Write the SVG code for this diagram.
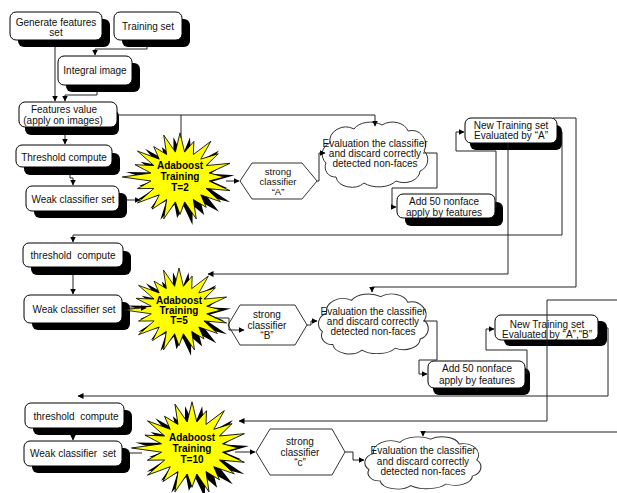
<svg xmlns="http://www.w3.org/2000/svg" width="617" height="493" viewBox="0 0 617 493">
  <style>
    .box { fill: #fff; stroke: #000; stroke-width: 1; }
    .shd { fill: #000; }
    .t { font-family: "Liberation Sans", Arial, sans-serif; font-size: 10px; fill: #111; text-anchor: middle; }
    .b { font-weight: bold; fill: #000; }
    .hex { fill: #fff; stroke: #333; stroke-width: 1; }
    .cloud { fill: #fff; stroke: #333; stroke-width: 1; }
    .burst { fill: #ffff00; stroke: #000; stroke-width: 0.8; }
    .burst-shd { fill: #000; }
    .c { fill: none; stroke: #222; stroke-width: 1; }
    .ar { marker-end: url(#ah); }
  </style>
  <defs>
    <marker id="ah" markerWidth="6" markerHeight="6" refX="5.5" refY="3" orient="auto" markerUnits="userSpaceOnUse">
      <path d="M0,0 L6,3 L0,6 z" fill="#000"/>
    </marker>
    <polygon id="burst" points="0,-42 4.4,-23.7 13.2,-33.9 12.7,-21.4 29.4,-34 19.8,-17 36.5,-22.2 24.9,-10.9 47.6,-13 27.7,-3.8 42.5,0 27.7,3.8 47.6,13 24.9,10.9 38.5,23.5 19.8,17 25,28.9 12.7,21.4 15.5,39.9 4.4,23.7 0,35.7 -4.4,23.7 -15.5,39.9 -12.7,21.4 -26.5,30.6 -19.8,17 -40.5,24.7 -24.9,10.9 -40.5,11.1 -27.7,3.8 -55,0 -27.7,-3.8 -42.8,-11.7 -24.9,-10.9 -40.5,-24.7 -19.8,-17 -25,-28.9 -12.7,-21.4 -15.5,-39.9 -4.4,-23.7"/>
    <path id="cloudShape" d="M10,42 A12,12 0 0 1 14,22 A16,14 0 0 1 38,8 A18,12 0 0 1 66,4 A16,12 0 0 1 92,10 A14,14 0 0 1 108,30 A12,12 0 0 1 104,50 A16,12 0 0 1 80,60 A20,12 0 0 1 48,62 A16,12 0 0 1 20,56 A10,10 0 0 1 10,42 Z"/>
  </defs>

  <!-- stage 1 -->
  <g id="gen-features">
    <rect class="shd" x="18" y="19" width="92" height="28" rx="6"/>
    <rect class="box" x="10" y="12" width="92" height="28" rx="6"/>
    <text class="t" x="56" y="25.5">Generate features</text>
    <text class="t" x="56" y="36">set</text>
  </g>
  <g id="training-set">
    <rect class="shd" x="122" y="19" width="68" height="28" rx="6"/>
    <rect class="box" x="114" y="12" width="68" height="28" rx="6"/>
    <text class="t" x="148" y="29.5">Training set</text>
  </g>
  <g id="integral-image">
    <rect class="shd" x="66" y="63" width="74" height="29" rx="6"/>
    <rect class="box" x="58" y="56" width="74" height="29" rx="6"/>
    <text class="t" x="95" y="73.5">Integral image</text>
  </g>
  <g id="features-value">
    <rect class="shd" x="25" y="110" width="94" height="25" rx="6"/>
    <rect class="box" x="19" y="102" width="98" height="25" rx="6"/>
    <text class="t" x="64" y="113">Features value</text>
    <text class="t" x="63" y="123.5">(apply on images)</text>
  </g>
  <g id="threshold-1">
    <rect class="shd" x="24" y="153" width="96" height="22" rx="6"/>
    <rect class="box" x="16" y="145" width="96" height="22" rx="6"/>
    <text class="t" x="64" y="160.5">Threshold compute</text>
  </g>
  <g id="weak-1">
    <rect class="shd" x="34" y="193" width="93" height="25" rx="6"/>
    <rect class="box" x="26" y="186" width="93" height="25" rx="6"/>
    <text class="t" x="73" y="202.5">Weak classifier set</text>
  </g>
  <g id="adaboost-1">
    <use href="#burst" class="burst-shd" transform="translate(183,181) rotate(9) scale(1.05)"/>
    <use href="#burst" class="burst" transform="translate(180,177) scale(1.05)"/>
    <text class="t b" x="180" y="168.5">Adaboost</text>
    <text class="t b" x="180" y="179.5">Training</text>
    <text class="t b" x="180" y="190.5">T=2</text>
  </g>
  <g id="strong-a">
    <polygon class="hex" points="240,181 252,163 302,163 317,181 302,199 252,199"/>
    <text class="t" x="278" y="174.5" style="font-size:9.5px">strong</text>
    <text class="t" x="278" y="184.5" style="font-size:9.5px">classifier</text>
    <text class="t" x="278" y="194.5" style="font-size:9.5px">“A”</text>
  </g>
  <g id="eval-1">
    <use href="#cloudShape" class="cloud" transform="translate(316,121)"/>
    <text class="t" x="375" y="146.5">Evaluation the classifier</text>
    <text class="t" x="375" y="157">and discard correctly</text>
    <text class="t" x="375" y="167">detected non-faces</text>
  </g>
  <g id="add50-1">
    <rect class="shd" x="405" y="202" width="98" height="24" rx="6"/>
    <rect class="box" x="397" y="194" width="98" height="24" rx="6"/>
    <text class="t" x="444" y="205">Add 50 nonface</text>
    <text class="t" x="444" y="215.5">apply by features</text>
  </g>
  <g id="new-training-1">
    <rect class="shd" x="470" y="125" width="92" height="25" rx="6"/>
    <rect class="box" x="465" y="118" width="92" height="25" rx="6"/>
    <text class="t" x="511" y="128.5">New Training set</text>
    <text class="t" x="511" y="139">Evaluated by “A”</text>
  </g>

  <!-- stage 2 -->
  <g id="threshold-2">
    <rect class="shd" x="31" y="251" width="100" height="24" rx="6"/>
    <rect class="box" x="23" y="243" width="100" height="24" rx="6"/>
    <text class="t" x="73" y="258.5" xml:space="preserve">threshold  compute</text>
  </g>
  <g id="weak-2">
    <rect class="shd" x="32" y="302" width="98" height="28" rx="6"/>
    <rect class="box" x="24" y="295" width="98" height="28" rx="6"/>
    <text class="t" x="74" y="312.5">Weak classifier set</text>
  </g>
  <g id="adaboost-2">
    <use href="#burst" class="burst-shd" transform="translate(182,314) rotate(9)"/>
    <use href="#burst" class="burst" transform="translate(179,310)"/>
    <text class="t b" x="179" y="303.5">Adaboost</text>
    <text class="t b" x="179" y="313.5">Training</text>
    <text class="t b" x="179" y="323.5">T=5</text>
  </g>
  <g id="strong-b">
    <polygon class="hex" points="228,325 240,305 295,305 307,325 295,345 240,345"/>
    <text class="t" x="267" y="318">strong</text>
    <text class="t" x="267" y="328.5">classifier</text>
    <text class="t" x="267" y="339">“B”</text>
  </g>
  <g id="eval-2">
    <use href="#cloudShape" class="cloud" transform="translate(312,293) scale(1.04,0.92)"/>
    <text class="t" x="373" y="314.5">Evaluation the classifier</text>
    <text class="t" x="373" y="325">and discard correctly</text>
    <text class="t" x="373" y="335">detected non-faces</text>
  </g>
  <g id="add50-2">
    <rect class="shd" x="433" y="368" width="97" height="27" rx="6"/>
    <rect class="box" x="428" y="361" width="97" height="27" rx="6"/>
    <text class="t" x="477" y="372">Add 50 nonface</text>
    <text class="t" x="477" y="383.5">apply by features</text>
  </g>
  <g id="new-training-2">
    <rect class="shd" x="504" y="321" width="103" height="25" rx="6"/>
    <rect class="box" x="495" y="315" width="103" height="25" rx="6"/>
    <text class="t" x="547" y="327.5">New Training set</text>
    <text class="t" x="547" y="338">Evaluated by “A”,“B”</text>
  </g>

  <!-- stage 3 -->
  <g id="threshold-3">
    <rect class="shd" x="33" y="410" width="99" height="25" rx="6"/>
    <rect class="box" x="25" y="403" width="99" height="25" rx="6"/>
    <text class="t" x="76" y="419.5" xml:space="preserve">threshold  compute</text>
  </g>
  <g id="weak-3">
    <rect class="shd" x="32" y="448" width="98" height="25" rx="6"/>
    <rect class="box" x="24" y="441" width="98" height="25" rx="6"/>
    <text class="t" x="73" y="456.5" xml:space="preserve">Weak classifier  set</text>
  </g>
  <g id="adaboost-3">
    <use href="#burst" class="burst-shd" transform="translate(195,452) rotate(9) scale(1.1)"/>
    <use href="#burst" class="burst" transform="translate(192,448) scale(1.1)"/>
    <text class="t b" x="192" y="440.5">Adaboost</text>
    <text class="t b" x="192" y="451.5">Training</text>
    <text class="t b" x="192" y="462.5">T=10</text>
  </g>
  <g id="strong-c">
    <polygon class="hex" points="256,452 270,429 332,429 345,452 332,475 270,475"/>
    <text class="t" x="300" y="445">strong</text>
    <text class="t" x="300" y="455.5">classifier</text>
    <text class="t" x="300" y="466">“c”</text>
  </g>
  <g id="eval-3">
    <use href="#cloudShape" class="cloud" transform="translate(358,436) scale(1.1,0.8)"/>
    <text class="t" x="423" y="454">Evaluation the classifier</text>
    <text class="t" x="423" y="464.5">and discard correctly</text>
    <text class="t" x="423" y="475">detected non-faces</text>
  </g>

  <g id="connectors">
    <path class="c ar" d="M55,47 V101"/>
    <path class="c ar" d="M147,47 V49 H95 V55"/>
    <path class="c ar" d="M97,92 V95 H65 V101"/>
    <path class="c ar" d="M65,135 V144"/>
    <path class="c ar" d="M117,115 H375 V126"/>
    <path class="c" d="M181,115 V138"/>
    <path class="c ar" d="M70,175 V178 H73 V185"/>
    <path class="c ar" d="M127,200 H140"/>
    <path class="c ar" d="M226,181 H239"/>
    <path class="c ar" d="M317,181 H319 V153 H325"/>
    <path class="c ar" d="M423,153 H437 V188 H392 V207 H396"/>
    <path class="c ar" d="M495,207 H496 V151 H456 V132 H464"/>
    <path class="c ar" d="M562,132 V235 H73 V242"/>
    <path class="c ar" d="M508,143 V274 H208"/>
    <path class="c ar" d="M553,118 H576 V287 H372 V292"/>

    <path class="c ar" d="M73,275 V294"/>
    <path class="c ar" d="M130,308 H146"/>
    <path class="c ar" d="M215,318 H229 V330 H244"/>
    <path class="c ar" d="M307,325 H311 V321 H317"/>
    <path class="c ar" d="M423,321 H437 V360 H419 V374 H427"/>
    <path class="c ar" d="M525,373 H527 V350 H486 V329 H494"/>
    <path class="c ar" d="M607,328 H608 V396 H78"/>
    <path class="c ar" d="M617,300 H547 V421 H239"/>
    <path class="c ar" d="M617,432 H423 V436"/>

    <path class="c ar" d="M73,435 V440"/>
    <path class="c" d="M130,453 H142"/>
    <path class="c ar" d="M235,452 H255"/>
    <path class="c ar" d="M345,452 H353 V460 H364"/>
  </g>
</svg>
